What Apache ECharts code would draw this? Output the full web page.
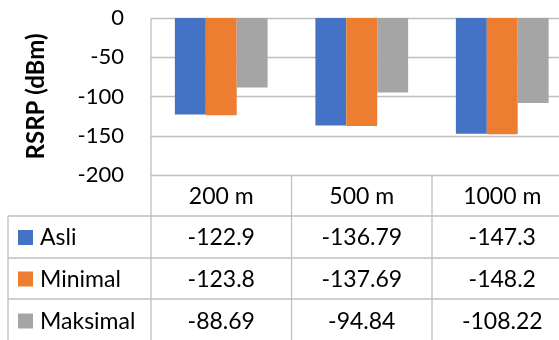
<!DOCTYPE html>
<html>
<head>
<meta charset="utf-8">
<script src="https://cdn.jsdelivr.net/npm/echarts@6/dist/echarts.min.js"></script>
<style>
  html, body { margin: 0; padding: 0; background: #fff; }
  #chart { width: 559px; height: 340px; }
</style>
</head>
<body>
<div id="chart"></div>
<script>
// RSRP per distance, three series, with a data table under the axis
const categories = ['200 m', '500 m', '1000 m'];
const seriesNames = ['Asli', 'Minimal', 'Maksimal'];
const asli = [-122.9, -136.79, -147.3];
const minimal = [-123.8, -137.69, -148.2];
const maksimal = [-88.69, -94.84, -108.22];
const tableText = [
  ['-122.9', '-136.79', '-147.3'],
  ['-123.8', '-137.69', '-148.2'],
  ['-88.69', '-94.84', '-108.22']
];
const colors = ['#4472C4', '#ED7D31', '#A5A5A5'];
const yTicks = [0, -50, -100, -150, -200];

const FONT = 'Lato';
const GRID_COLOR = '#BFBFBF';
const W = 559, H = 340;
const gridLeft = 151, gridTop = 18, gridBottomY = 175, gridWidth = 421.5;
const rowLines = [216, 258, 299];
const tableLeft = 8;

const chart = echarts.init(document.getElementById('chart'), null, { renderer: 'canvas' });
const values = [asli, minimal, maksimal];

chart.setOption({
  animation: false,
  color: colors,
  grid: {
    left: gridLeft, top: gridTop, width: gridWidth, height: gridBottomY - gridTop,
    containLabel: false, outerBoundsMode: 'none'
  },
  xAxis: {
    type: 'category', data: categories, position: 'top',
    axisLine: { show: false }, axisTick: { show: false }, axisLabel: { show: false }
  },
  yAxis: {
    type: 'value', min: -200, max: 0, interval: 50,
    name: 'RSRP (dBm)', nameLocation: 'middle', nameGap: 103,
    nameTextStyle: { fontFamily: FONT, fontWeight: 'bold', fontSize: 24, color: '#000' },
    axisLine: { show: false }, axisTick: { show: false },
    axisLabel: { fontFamily: FONT, fontSize: 22, color: '#000', margin: 27 },
    splitLine: { lineStyle: { color: GRID_COLOR, width: 1.3 } }
  },
  series: seriesNames.map((n, i) => ({
    name: n, type: 'bar', data: values[i],
    barGap: '0%', barCategoryGap: '34%',
    itemStyle: { color: colors[i] }
  }))
});

// Data table drawn beneath the plot
const colX = categories.map((c, i) => chart.convertToPixel({ xAxisIndex: 0 }, c));
const bandW = colX.length > 1 ? colX[1] - colX[0] : 140;
const graphics = [];
const line = (x1, y1, x2, y2) => graphics.push({
  type: 'line', shape: { x1, y1, x2, y2 }, silent: true,
  style: { stroke: GRID_COLOR, lineWidth: 1.3 }
});
// vertical lines
line(gridLeft, gridTop, gridLeft, H);
line(tableLeft, rowLines[0], tableLeft, H);
for (let i = 1; i < categories.length; i++) {
  const x = colX[i] - bandW / 2;
  line(x, gridBottomY, x, H);
}
// horizontal lines
rowLines.forEach(y => line(tableLeft, y, W, y));

const headerY = (gridBottomY + rowLines[0]) / 2 + 1;
const TFS = 23;
categories.forEach((c, i) => graphics.push({
  type: 'text', x: colX[i], y: headerY, silent: true,
  style: { text: c, fontFamily: FONT, fontSize: TFS, fill: '#000', textAlign: 'center', textVerticalAlign: 'middle' }
}));
const rowBounds = [rowLines[0], rowLines[1], rowLines[2], H + 2];
seriesNames.forEach((n, r) => {
  const cy = (rowBounds[r] + rowBounds[r + 1]) / 2 + 1;
  graphics.push({ type: 'rect', shape: { x: 18, y: cy - 8, width: 15, height: 15 }, silent: true, style: { fill: colors[r] } });
  graphics.push({ type: 'text', x: 40, y: cy, silent: true,
    style: { text: n, fontFamily: FONT, fontSize: TFS, fill: '#000', textAlign: 'left', textVerticalAlign: 'middle' } });
  tableText[r].forEach((t, i) => graphics.push({
    type: 'text', x: colX[i], y: cy, silent: true,
    style: { text: t, fontFamily: FONT, fontSize: TFS, fill: '#000', textAlign: 'center', textVerticalAlign: 'middle' }
  }));
});
chart.setOption({ graphic: graphics });
</script>
</body>
</html>
